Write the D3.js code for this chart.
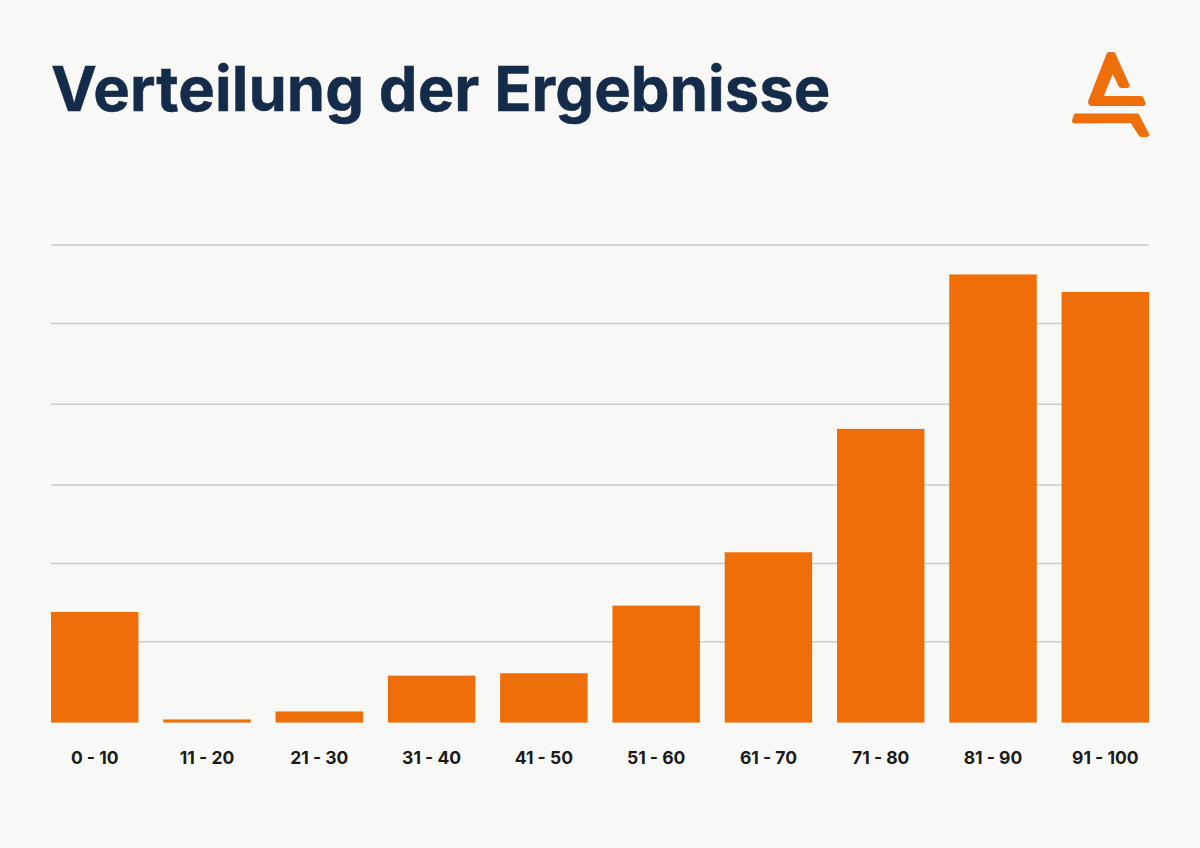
<!DOCTYPE html>
<html>
<head>
<meta charset="utf-8">
<script src="https://cdn.jsdelivr.net/npm/d3@7"></script>
<style>
  html, body { margin: 0; padding: 0; background: #f8f8f7; }
  text { font-family: Inter, sans-serif; }
  .axis .domain, .axis line { display: none; }
</style>
</head>
<body>
<div id="chart"></div>
<script>
const categories = ["0 - 10", "11 - 20", "21 - 30", "31 - 40", "41 - 50", "51 - 60", "61 - 70", "71 - 80", "81 - 90", "91 - 100"];
const values = [13.9, 0.4, 1.4, 5.9, 6.2, 14.7, 21.4, 36.9, 56.3, 54.1];
// the lines are not quite evenly spaced there
const gridTicks = [10.15, 20, 29.85, 40, 50.15, 60];

const width = 1200, height = 848;
const margin = { top: 245, right: 51, bottom: 125.400, left: 51 };

const svg = d3.select("#chart").append("svg")
  .attr("width", width)
  .attr("height", height)
  .style("display", "block");

svg.append("rect").attr("width", width).attr("height", height).attr("fill", "#f8f8f7");

svg.append("text")
  .attr("x", 51)
  .attr("y", 111)
  .attr("font-size", 61.5)
  .attr("font-weight", 700)
  .attr("letter-spacing", 0.08)
  .attr("stroke", "#142b4a")
  .attr("stroke-width", 0.5)
  .attr("fill", "#142b4a")
  .text("Verteilung der Ergebnisse");

const x = d3.scaleBand()
  .domain(categories)
  .range([margin.left, width - margin.right])
  .paddingInner(0.2212)
  .paddingOuter(0);

const y = d3.scaleLinear()
  .domain([0, 60])
  .range([height - margin.bottom, margin.top]);

// gridlines sit behind the bars
svg.append("g")
  .selectAll("line")
  .data(gridTicks)
  .enter()
  .append("line")
  .attr("x1", margin.left)
  .attr("x2", width - margin.right)
  .attr("y1", d => y(d))
  .attr("y2", d => y(d))
  .attr("stroke", "#cbcbc9")
  .attr("stroke-width", 1.5);

svg.selectAll(".bar")
  .data(values)
  .enter()
  .append("rect")
  .attr("class", "bar")
  .attr("x", (d, i) => x(categories[i]))
  .attr("y", d => y(d))
  .attr("width", x.bandwidth())
  .attr("height", d => y(0) - y(d))
  .attr("fill", "#ee6e09");

const xAxis = svg.append("g")
  .attr("class", "axis")
  .attr("transform", `translate(0,${height - margin.bottom})`)
  .call(d3.axisBottom(x).tickSize(0).tickPadding(28.500));

xAxis.selectAll("text")
  .attr("font-family", "Inter, sans-serif")
  .attr("font-size", 17.5)
  .attr("font-weight", 700)
  .attr("fill", "#1b1b1b");

// logo
const logo = svg.append("g")
  .attr("fill", "#ee6e09")
  .attr("stroke", "#ee6e09")
  .attr("stroke-width", 5)
  .attr("stroke-linejoin", "round");

logo.append("path")
  .attr("d", "M1109 54.500 L1113 54.500 L1127 85.500 L1121 85.500 L1112.500 68 L1100 98.500 L1141 98.500 L1143 103.500 L1091.500 103.500 L1090.500 102 Z");
logo.append("path")
  .attr("d", "M1076 116 L1137 116 L1146.500 134.500 L1141 134.500 L1132 120.500 L1074.500 121 Z");
</script>
</body>
</html>
